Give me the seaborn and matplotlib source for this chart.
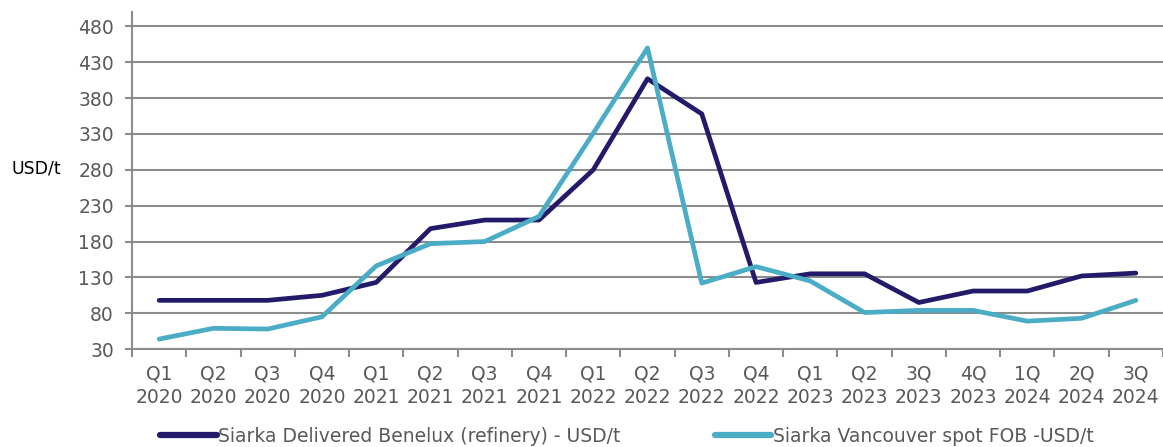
import matplotlib
matplotlib.use("Agg")
import matplotlib.pyplot as plt
import seaborn as sns
import pandas as pd
import numpy as np

quarters = ["Q1\n2020", "Q2\n2020", "Q3\n2020", "Q4\n2020",
            "Q1\n2021", "Q2\n2021", "Q3\n2021", "Q4\n2021",
            "Q1\n2022", "Q2\n2022", "Q3\n2022", "Q4\n2022",
            "Q1\n2023", "Q2\n2023", "3Q\n2023", "4Q\n2023",
            "1Q\n2024", "2Q\n2024", "3Q\n2024"]

benelux = [98, 98, 98, 105, 123, 198, 210, 210, 280, 407, 358, 123,
           135, 135, 95, 111, 111, 132, 136]
vancouver = [44, 59, 58, 75, 146, 177, 180, 215, 331, 450, 122, 145,
             125, 81, 84, 84, 69, 73, 98]

series_names = ["Siarka Delivered Benelux (refinery) - USD/t",
                "Siarka Vancouver spot FOB -USD/t"]
palette = {series_names[0]: "#231b69", series_names[1]: "#4bacc6"}

df = pd.concat([
    pd.DataFrame({"idx": range(len(quarters)), "value": benelux, "series": series_names[0]}),
    pd.DataFrame({"idx": range(len(quarters)), "value": vancouver, "series": series_names[1]}),
])

sns.set_theme(style="white")
plt.rcParams["font.family"] = ["DejaVu Sans"]

fig = plt.figure(figsize=(11.63, 4.47), dpi=100)
ax = fig.add_axes([0.1135, 0.219, 0.8865, 0.754])

sns.lineplot(data=df, x="idx", y="value", hue="series", palette=palette,
             linewidth=3.4, ax=ax, legend=False)

grid_c = "#8c8c8c"
text_c = "#595959"

ax.set_xlim(-0.5, len(quarters) - 0.5)
ax.set_ylim(30, 500)
ax.set_yticks(np.arange(30, 481, 50))
ax.yaxis.grid(True, color=grid_c, linewidth=1.5)
ax.set_axisbelow(True)

ax.set_xticks(range(len(quarters)))
ax.set_xticklabels(quarters, color=text_c, fontsize=13.5, linespacing=1.3)
ax.set_xticks(np.arange(-0.5, len(quarters), 1), minor=True)
ax.tick_params(axis="x", which="major", length=0, pad=11)
ax.tick_params(axis="x", which="minor", length=6, width=1.5, color=grid_c, direction="out")
ax.tick_params(axis="y", length=5, width=1.5, color=grid_c, direction="out",
               labelcolor=text_c, labelsize=13.5, pad=8)
ax.xaxis.set_ticks_position("bottom")
ax.yaxis.set_ticks_position("left")

for side in ["top", "right"]:
    ax.spines[side].set_visible(False)
for side in ["left", "bottom"]:
    ax.spines[side].set_color(grid_c)
    ax.spines[side].set_linewidth(1.5)

ax.set_xlabel("")
ax.set_ylabel("")
fig.text(0.010, 0.624, "USD/t", fontsize=12.5, color="#000000", va="center", ha="left")

handles = [plt.Line2D([], [], color=palette[n], linewidth=4.5) for n in series_names]
fig.legend(handles, series_names, loc="center", bbox_to_anchor=(0.539, 0.024),
           ncol=2, frameon=False, fontsize=13.5, handlelength=3.0,
           handletextpad=0.1, columnspacing=5.0, labelcolor=text_c,
           borderpad=0.1)

fig.savefig("out.png", dpi=100)
